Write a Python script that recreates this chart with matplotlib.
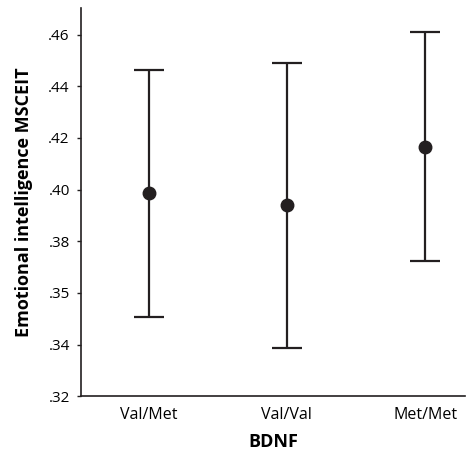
import numpy as np
import matplotlib.pyplot as plt

groups = ["Val/Met", "Val/Val", "Met/Met"]
means = [0.3987, 0.3940, 0.4165]
upper = [0.4464, 0.4491, 0.4611]
lower = [0.3506, 0.3386, 0.3723]

yticks = [0.32, 0.34, 0.36, 0.38, 0.40, 0.42, 0.44, 0.46]
ytick_labels = [".32", ".34", ".35", ".38", ".40", ".42", ".44", ".46"]

plt.rcParams['font.family'] = ['Open Sans', 'DejaVu Sans']
ink = "#231f20"

fig = plt.figure(figsize=(4.68, 4.58), dpi=100)
ax = fig.add_axes([0.173, 0.135, 0.821, 0.848])

x = np.arange(len(groups))
m = np.array(means)
err = [m - np.array(lower), np.array(upper) - m]
ax.errorbar(x, m, yerr=err, fmt='o', color=ink, ecolor=ink, elinewidth=1.6,
            capsize=10.5, capthick=1.6, markersize=9)

ax.set_xlim(-0.49, 2.29)
ax.set_ylim(0.32, 0.4704)
ax.set_xticks(x)
ax.set_xticklabels(groups, fontsize=11.5)
ax.set_yticks(yticks)
ax.set_yticklabels(ytick_labels, fontsize=11)
ax.tick_params(axis='x', length=0, pad=8)
ax.tick_params(axis='y', length=3, width=1, direction='out', pad=5, color=ink)

for side in ["top", "right"]:
    ax.spines[side].set_visible(False)
for side in ["left", "bottom"]:
    ax.spines[side].set_color(ink)
    ax.spines[side].set_linewidth(1.2)

ax.set_xlabel("BDNF", fontsize=13, fontweight='bold', labelpad=7)
ax.set_ylabel("Emotional intelligence MSCEIT", fontsize=13, fontweight='bold', labelpad=11)

fig.savefig("out.png", dpi=100)
